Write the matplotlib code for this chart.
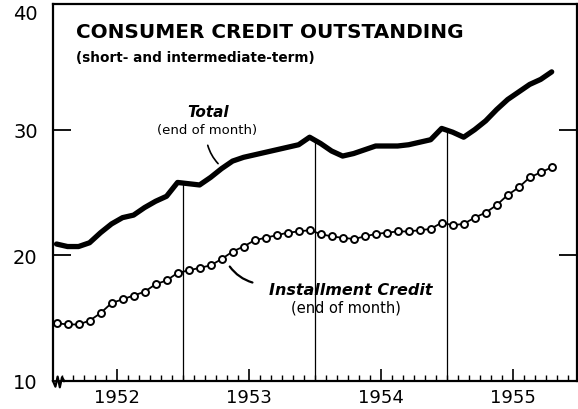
import numpy as np
import matplotlib
matplotlib.use("Agg")
import matplotlib.pyplot as plt
from matplotlib.ticker import MultipleLocator, FixedLocator

# --- Data: month-end values, Jan 1952 .. Oct 1955 (billions of dollars) ---
total = [20.9, 20.7, 20.7, 21.0, 21.8, 22.5, 23.0, 23.2, 23.8, 24.3, 24.7, 25.8,
         25.7, 25.6, 26.2, 26.9, 27.5, 27.8, 28.0, 28.2, 28.4, 28.6, 28.8, 29.4,
         28.9, 28.3, 27.9, 28.1, 28.4, 28.7, 28.7, 28.7, 28.8, 29.0, 29.2, 30.1,
         29.8, 29.4, 30.0, 30.7, 31.6, 32.4, 33.0, 33.6, 34.0, 34.6]
installment = [14.6, 14.5, 14.5, 14.8, 15.4, 16.2, 16.5, 16.8, 17.1, 17.7, 18.0, 18.6,
               18.8, 19.0, 19.2, 19.7, 20.3, 20.7, 21.2, 21.4, 21.6, 21.8, 21.9, 22.0,
               21.7, 21.5, 21.4, 21.3, 21.5, 21.7, 21.8, 21.9, 21.9, 22.0, 22.1, 22.6,
               22.4, 22.5, 23.0, 23.4, 24.0, 24.8, 25.4, 26.2, 26.6, 27.0]
years = ["1952", "1953", "1954", "1955"]
y_ticks = [10, 20, 30, 40]

months = np.arange(len(total)) + 0.5
year_ends = [12, 24, 36]
mid_years = [6, 18, 30, 42]

fig = plt.figure(figsize=(5.78, 4.10), dpi=100)
ax = fig.add_axes([53 / 578, 28 / 410, 524 / 578, 377 / 410])

ax.plot(months, total, color="black", lw=3.8, solid_capstyle="round", solid_joinstyle="round")
ax.plot(months, installment, color="black", lw=1.3, marker="o", markersize=5,
        markerfacecolor="white", markeredgecolor="black", markeredgewidth=1.4)

# year-end droplines up to the total curve
ax.vlines(year_ends, 10, np.interp(year_ends, months, total), color="black", lw=0.9)

ax.set_xlim(0.18, 47.8)
ax.set_ylim(10, 40)

ax.yaxis.set_major_locator(FixedLocator(y_ticks))
ax.set_yticklabels([str(v) for v in y_ticks])
ax.get_yticklabels()[-1].set_va("top")
ax.tick_params(axis="y", direction="in", length=13, width=1.3, labelsize=14,
               pad=11, right=True, labelright=False)
ax.xaxis.set_major_locator(FixedLocator(mid_years))
ax.xaxis.set_minor_locator(MultipleLocator(1))
ax.set_xticklabels(years)
ax.tick_params(axis="x", which="major", direction="in", length=9, width=1.2,
               labelsize=13, pad=5)
ax.tick_params(axis="x", which="minor", direction="in", length=4, width=1.0)

for s in ax.spines.values():
    s.set_linewidth(1.6)
ax.spines["bottom"].set_bounds(1.2, 47.8)

# axis break squiggle at the lower-left corner
ax.plot([0.18, 0.4, 0.6, 0.8, 1.0, 1.2], [10.0, 9.55, 10.35, 9.5, 10.3, 10.0],
        color="black", lw=1.6, clip_on=False)

ax.text(0.044, 0.926, "CONSUMER CREDIT OUTSTANDING", transform=ax.transAxes,
        fontsize=14.4, fontweight="bold", va="center", ha="left")
ax.text(0.044, 0.859, "(short- and intermediate-term)", transform=ax.transAxes,
        fontsize=9.8, fontweight="bold", va="center", ha="left")

ax.text(14.3, 31.45, "Total", fontsize=11, fontweight="bold", style="italic",
        ha="center", va="center")
ax.text(14.2, 30.0, "(end of month)", fontsize=9.5, ha="center", va="center")
ax.annotate("", xy=(15.36, 27.14), xytext=(14.18, 28.97),
            arrowprops=dict(arrowstyle="-", lw=1.2, color="black",
                            connectionstyle="arc3,rad=0.15"))

ax.text(27.2, 17.25, "Installment Credit", fontsize=11.5, fontweight="bold",
        style="italic", ha="center", va="center")
ax.text(26.8, 15.9, "(end of month)", fontsize=10.5, ha="center", va="center")
ax.annotate("", xy=(18.55, 17.78), xytext=(16.1, 19.29),
            arrowprops=dict(arrowstyle="-", lw=1.6, color="black",
                            connectionstyle="arc3,rad=0.2"))

fig.savefig("out.png", dpi=100)
